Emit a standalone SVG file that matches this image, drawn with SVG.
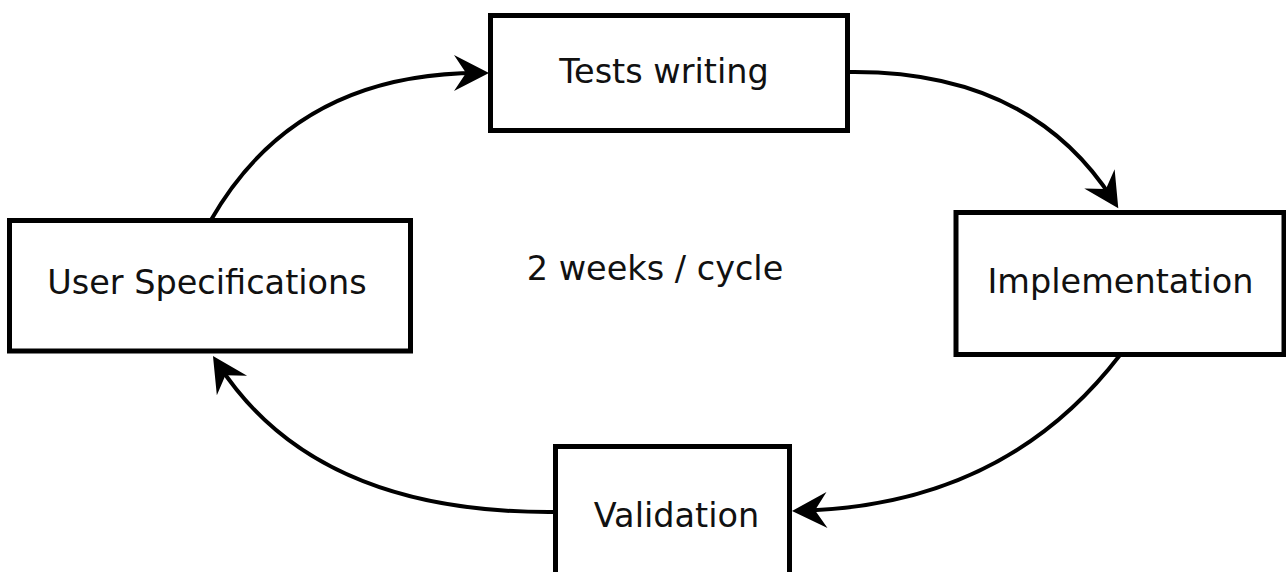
<svg xmlns="http://www.w3.org/2000/svg" width="1286" height="572" viewBox="0 0 1286 572">
  <style>
    .box { fill: #ffffff; stroke: #000000; stroke-width: 5; }
    .label { font-family: "DejaVu Sans", "Liberation Sans", sans-serif; font-size: 33.5px; fill: #111111; text-anchor: middle; }
    .flow { fill: none; stroke: #000000; stroke-width: 4; marker-end: url(#arrow); }
  </style>
  <defs>
    <!-- swept-back arrowhead; tip sits 10px past the path end -->
    <marker id="arrow" markerUnits="userSpaceOnUse" orient="auto" refX="0" refY="0"
            viewBox="-30 -20 42 40" markerWidth="42" markerHeight="40" overflow="visible">
      <path d="M10,0 L-25,-18 L-13,0 L-25,18 Z" fill="#000000"/>
    </marker>
  </defs>

  <rect width="1286" height="572" fill="#ffffff"/>

  <g id="connectors">
    <path class="flow" d="M211,220 Q295,73 479,73"/>
    <path class="flow" d="M849,72 Q1030,70 1112.9,199.9"/>
    <path class="flow" d="M1120,355 Q1005,505 802,510.7"/>
    <path class="flow" d="M555,512 Q315,514 218.4,364.4"/>
  </g>

  <g id="tests-writing">
    <rect class="box" x="490.5" y="15.5" width="357" height="115"/>
    <text class="label" x="664" y="83">Tests writing</text>
  </g>

  <g id="user-specifications">
    <rect class="box" x="9.5" y="220.5" width="401" height="130.5"/>
    <text class="label" x="207" y="294">User Specifications</text>
  </g>

  <g id="implementation">
    <rect class="box" x="956" y="212.5" width="328" height="142"/>
    <text class="label" x="1120.5" y="293">Implementation</text>
  </g>

  <g id="validation">
    <rect class="box" x="555.5" y="446.5" width="234" height="140"/>
    <text class="label" x="676.5" y="527">Validation</text>
  </g>

  <g id="cycle-note">
    <text class="label" x="655" y="280">2 weeks / cycle</text>
  </g>
</svg>
